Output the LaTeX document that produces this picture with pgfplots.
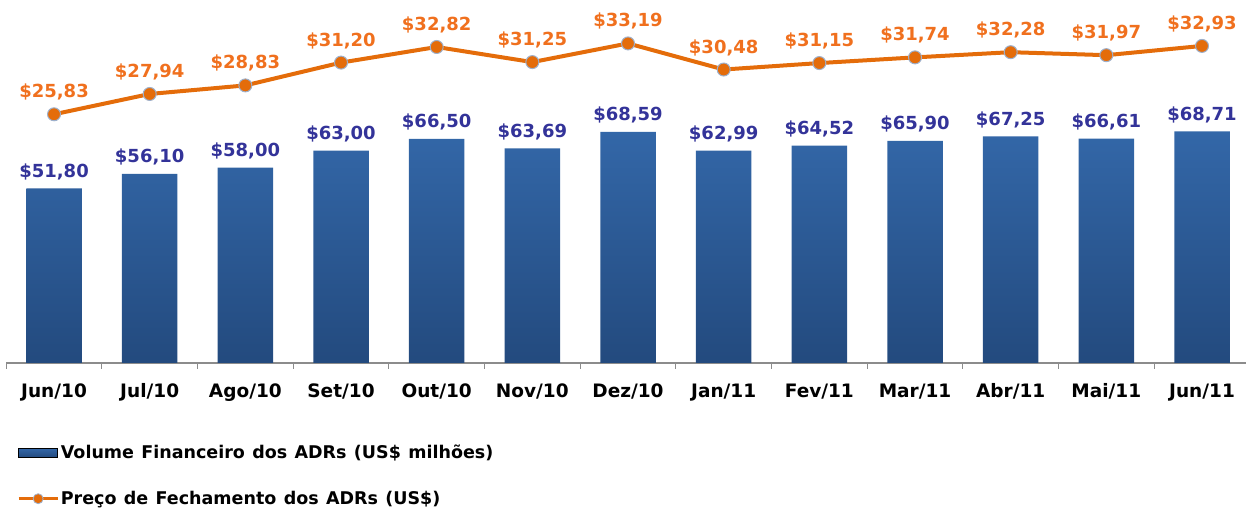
\documentclass[border=0pt]{standalone}
\usepackage{fontspec}
\setmainfont{DejaVu Sans}
\usepackage{pgfplots}
\usepackage{pgfplotstable}
\pgfplotsset{compat=1.18}

\definecolor{barTop}{HTML}{3367A8}
\definecolor{barBot}{HTML}{234A7E}
\definecolor{lineOr}{HTML}{E46C0A}
\definecolor{lblOr}{HTML}{F0701E}
\definecolor{lblBl}{HTML}{333399}
\definecolor{mkEdge}{HTML}{9DB0CC}
\definecolor{axGray}{HTML}{8C8C8C}

% idx, volume (US$ mi), closing price (US$)
\pgfplotstableread{
idx vol   price
0   51.80 25.83
1   56.10 27.94
2   58.00 28.83
3   63.00 31.20
4   66.50 32.82
5   63.69 31.25
6   68.59 33.19
7   62.99 30.48
8   64.52 31.15
9   65.90 31.74
10  67.25 32.28
11  66.61 31.97
12  68.71 32.93
}\data

\newcommand{\lblfont}{\bfseries\fontsize{18}{21}\selectfont}
\newcommand{\tckfont}{\bfseries\fontsize{18.5}{21}\selectfont}
\newcommand{\lgdfont}{\bfseries\fontsize{17.5}{21}\selectfont\spaceskip=0.42em plus 0.1em}

\begin{document}
\begin{tikzpicture}
\useasboundingbox (0,0) rectangle (1246pt,511pt);
\pgfplotsset{
  common/.style={
    at={(6.2pt,148pt)}, anchor=south west,
    scale only axis, width=1239.8pt, height=337pt,
    xmin=-0.5, xmax=12.46, clip=false,
    /pgf/number format/fixed,
    /pgf/number format/fixed zerofill,
    /pgf/number format/precision=2,
    /pgf/number format/use comma,
    /pgf/number format/assume math mode=true,
  }
}
\begin{axis}[
  common,
  ymin=0, ymax=100,
  axis y line=none, axis x line*=bottom,
  x axis line style={draw=axGray, line width=1.6pt, -},
  xtick={0,...,12},
  xticklabels={Jun/10,Jul/10,Ago/10,Set/10,Out/10,Nov/10,Dez/10,Jan/11,Fev/11,Mar/11,Abr/11,Mai/11,Jun/11},
  major tick length=0pt,
  minor xtick={-0.5,0.5,...,11.5},
  minor tick length=6pt, tick align=outside,
  minor tick style={draw=axGray, line width=1pt},
  xticklabel style={font=\tckfont, yshift=-17pt},
  ybar, bar width=55.5pt,
  nodes near coords={\$\pgfmathprintnumber{\pgfplotspointmeta}},
  nodes near coords style={font=\lblfont, text=lblBl, anchor=south, yshift=5pt},
]
\addplot[draw=none, top color=barTop, bottom color=barBot] table[x=idx, y=vol] {\data};
\end{axis}

\begin{axis}[
  common,
  ymin=0, ymax=35,
  hide axis,
  legend style={draw=none, fill=none, inner sep=0pt,
    at={(0,0)}, anchor=north west, xshift=11pt, yshift=-80pt,
    row sep=27pt, font=\lgdfont, cells={anchor=west}},
]
\addlegendimage{legend image code/.code={
  \fill[top color=barTop, bottom color=barBot] (0pt,-4.5pt) rectangle (39pt,4.5pt);}}
\addlegendentry{Volume Financeiro dos ADRs (US\$ milhões)}
\addplot[lineOr, line width=4pt, mark=*, mark size=6.5pt,
  mark options={fill=lineOr, draw=mkEdge, line width=1pt},
  nodes near coords={\$\pgfmathprintnumber{\pgfplotspointmeta}},
  nodes near coords style={font=\lblfont, text=lblOr, anchor=south, yshift=10pt},
  legend image code/.code={
    \draw[lineOr, line width=2.5pt] (0pt,0pt) -- (39pt,0pt);
    \draw[mkEdge, fill=lineOr, line width=0.8pt] (19.5pt,0pt) circle (5pt);},
] table[x=idx, y=price] {\data};
\addlegendentry{Preço de Fechamento dos ADRs (US\$)}
\end{axis}
\end{tikzpicture}
\end{document}
